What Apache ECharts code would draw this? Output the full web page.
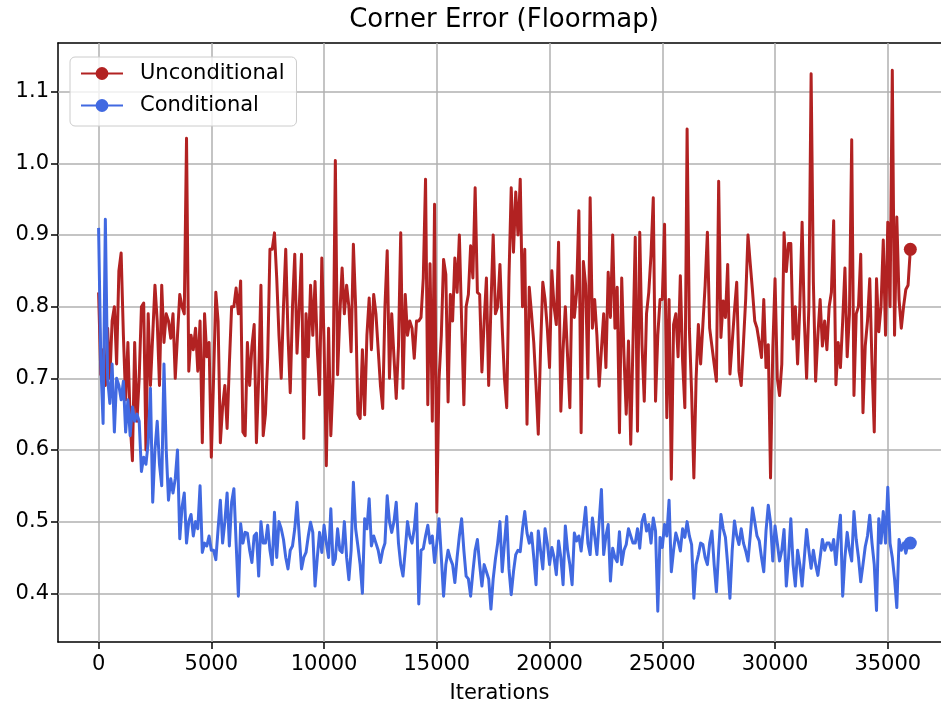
<!DOCTYPE html>
<html>
<head>
<meta charset="utf-8">
<script src="https://cdn.jsdelivr.net/npm/echarts@6/dist/echarts.min.js"></script>
<style>
  html, body { margin: 0; padding: 0; background: #ffffff; overflow: hidden; }
  #chart { width: 941px; height: 709px; }
</style>
</head>
<body>
<div id="chart"></div>
<script>
// Evaluation interval (iterations between logged points)
const ITER_STEP = 100;

// Corner error of the unconditional model, one value per logged step
const unconditional = [
  0.82,0.705,0.74,0.69,0.77,0.70,0.78,0.80,0.72,0.85,
  0.875,0.76,0.67,0.75,0.64,0.585,0.75,0.64,0.70,0.80,
  0.805,0.60,0.79,0.69,0.76,0.83,0.78,0.69,0.83,0.75,
  0.79,0.78,0.756,0.79,0.70,0.76,0.817,0.80,0.79,1.035,
  0.71,0.76,0.74,0.77,0.71,0.78,0.61,0.79,0.73,0.75,
  0.59,0.70,0.82,0.78,0.61,0.66,0.69,0.63,0.72,0.80,
  0.80,0.826,0.79,0.836,0.625,0.62,0.75,0.69,0.745,0.775,
  0.61,0.70,0.83,0.62,0.65,0.73,0.88,0.88,0.903,0.84,
  0.76,0.70,0.80,0.88,0.76,0.68,0.80,0.873,0.735,0.80,
  0.873,0.616,0.79,0.73,0.83,0.76,0.835,0.74,0.677,0.868,
  0.75,0.578,0.77,0.62,0.70,1.004,0.705,0.79,0.854,0.79,
  0.83,0.80,0.737,0.887,0.80,0.65,0.644,0.74,0.649,0.76,
  0.812,0.74,0.817,0.79,0.74,0.69,0.658,0.80,0.878,0.70,
  0.79,0.73,0.672,0.745,0.903,0.686,0.817,0.76,0.78,0.77,
  0.728,0.78,0.78,0.785,0.84,0.978,0.663,0.86,0.64,0.943,
  0.513,0.70,0.76,0.866,0.845,0.667,0.817,0.78,0.868,0.82,
  0.90,0.78,0.663,0.80,0.817,0.885,0.84,0.966,0.82,0.817,
  0.709,0.78,0.84,0.69,0.80,0.90,0.79,0.80,0.859,0.771,
  0.70,0.659,0.84,0.966,0.876,0.96,0.90,0.978,0.80,0.88,
  0.636,0.827,0.79,0.75,0.69,0.622,0.74,0.834,0.81,0.77,
  0.715,0.85,0.80,0.775,0.89,0.654,0.74,0.80,0.73,0.659,
  0.843,0.785,0.82,0.934,0.624,0.863,0.83,0.70,0.952,0.77,
  0.81,0.76,0.689,0.74,0.79,0.715,0.848,0.785,0.90,0.77,
  0.827,0.624,0.84,0.733,0.65,0.752,0.608,0.75,0.897,0.626,
  0.904,0.747,0.668,0.79,0.82,0.873,0.952,0.668,0.76,0.81,
  0.81,0.915,0.645,0.81,0.559,0.775,0.79,0.73,0.843,0.724,
  0.659,1.048,0.77,0.68,0.561,0.70,0.775,0.72,0.775,0.83,
  0.904,0.77,0.745,0.72,0.696,0.975,0.757,0.808,0.785,0.859,
  0.706,0.75,0.794,0.834,0.71,0.69,0.75,0.812,0.90,0.86,
  0.822,0.78,0.77,0.75,0.729,0.81,0.715,0.747,0.561,0.74,
  0.839,0.70,0.676,0.72,0.903,0.849,0.888,0.888,0.755,0.80,
  0.72,0.80,0.918,0.78,0.70,0.80,1.125,0.834,0.696,0.76,
  0.81,0.745,0.78,0.74,0.80,0.82,0.92,0.691,0.75,0.715,
  0.78,0.854,0.73,0.79,1.033,0.676,0.79,0.80,0.873,0.652,
  0.745,0.78,0.839,0.72,0.625,0.839,0.765,0.80,0.893,0.76,
  0.918,0.80,1.13,0.76,0.925,0.81,0.77,0.80,0.824,0.83,
  0.88
];

// Corner error of the conditional model, same logging steps
const conditional = [
  0.91,0.72,0.637,0.922,0.70,0.665,0.72,0.625,0.70,0.69,
  0.67,0.696,0.625,0.67,0.62,0.66,0.64,0.65,0.64,0.57,
  0.59,0.58,0.61,0.686,0.527,0.60,0.64,0.58,0.55,0.72,
  0.60,0.53,0.56,0.54,0.56,0.60,0.476,0.52,0.54,0.47,
  0.50,0.51,0.48,0.50,0.49,0.55,0.457,0.47,0.466,0.48,
  0.46,0.46,0.447,0.49,0.53,0.47,0.50,0.54,0.466,0.527,
  0.546,0.47,0.396,0.497,0.47,0.485,0.484,0.46,0.443,0.48,
  0.484,0.424,0.50,0.47,0.47,0.495,0.46,0.44,0.513,0.45,
  0.50,0.49,0.475,0.45,0.434,0.46,0.466,0.49,0.527,0.48,
  0.434,0.45,0.457,0.48,0.499,0.485,0.41,0.45,0.485,0.457,
  0.495,0.47,0.45,0.518,0.44,0.448,0.49,0.46,0.457,0.50,
  0.45,0.419,0.46,0.555,0.49,0.466,0.44,0.40,0.504,0.49,
  0.532,0.466,0.48,0.47,0.46,0.443,0.46,0.47,0.536,0.50,
  0.485,0.50,0.527,0.47,0.44,0.424,0.46,0.50,0.48,0.47,
  0.49,0.525,0.385,0.46,0.462,0.48,0.495,0.47,0.48,0.443,
  0.47,0.504,0.45,0.396,0.44,0.46,0.448,0.44,0.415,0.45,
  0.48,0.504,0.46,0.424,0.42,0.396,0.43,0.46,0.475,0.44,
  0.41,0.44,0.43,0.42,0.378,0.42,0.448,0.47,0.50,0.43,
  0.47,0.507,0.434,0.398,0.43,0.454,0.46,0.458,0.49,0.514,
  0.484,0.47,0.484,0.45,0.412,0.487,0.46,0.434,0.49,0.47,
  0.44,0.464,0.45,0.426,0.473,0.45,0.412,0.494,0.46,0.44,
  0.412,0.484,0.473,0.48,0.459,0.49,0.52,0.47,0.454,0.505,
  0.48,0.454,0.50,0.545,0.454,0.48,0.496,0.417,0.463,0.45,
  0.444,0.486,0.44,0.46,0.468,0.49,0.48,0.47,0.47,0.49,
  0.463,0.50,0.51,0.487,0.496,0.47,0.505,0.487,0.375,0.478,
  0.464,0.496,0.48,0.53,0.43,0.46,0.484,0.473,0.459,0.49,
  0.478,0.50,0.48,0.468,0.393,0.44,0.454,0.47,0.468,0.45,
  0.44,0.47,0.487,0.44,0.402,0.46,0.51,0.49,0.478,0.44,
  0.393,0.46,0.501,0.48,0.468,0.49,0.47,0.459,0.445,0.48,
  0.519,0.50,0.48,0.473,0.45,0.43,0.487,0.523,0.499,0.445,
  0.494,0.47,0.445,0.46,0.489,0.41,0.45,0.504,0.44,0.41,
  0.46,0.44,0.41,0.45,0.489,0.46,0.435,0.46,0.44,0.425,
  0.45,0.475,0.46,0.47,0.47,0.46,0.475,0.44,0.48,0.509,
  0.396,0.45,0.485,0.46,0.445,0.514,0.475,0.45,0.416,0.44,
  0.465,0.48,0.509,0.47,0.44,0.376,0.504,0.47,0.514,0.47,
  0.548,0.47,0.45,0.42,0.38,0.475,0.46,0.47,0.456,0.47,
  0.47
];

// Axis ticks and visible ranges (the plot runs off the right edge of the canvas)
const xTicks = [0, 5000, 10000, 15000, 20000, 25000, 30000, 35000];
const yTicks = [0.4, 0.5, 0.6, 0.7, 0.8, 0.9, 1.0, 1.1];
const xRange = [-1800, 37360];
const yRange = [0.332, 1.168];

const FONT = '"DejaVu Sans", "Liberation Sans", sans-serif';
const RED = '#b22222';
const BLUE = '#4169e1';
const GRID_GREY = '#b0b0b0';
const SPINE = { color: '#000000', width: 1.5 };

// Line points; only the final logged step carries a marker
function toPoints(values) {
  return values.map((v, i) => ({
    value: [i * ITER_STEP, v],
    symbol: i === values.length - 1 ? 'circle' : 'none'
  }));
}

function lineSeries(name, values, color) {
  return {
    name: name,
    type: 'line',
    z: 3,
    data: toPoints(values),
    symbol: 'circle',
    symbolSize: 13,
    showSymbol: true,
    lineStyle: { color: color, width: 3, join: 'round' },
    itemStyle: { color: color },
    emphasis: { disabled: true }
  };
}

const chart = echarts.init(document.getElementById('chart'), null, { renderer: 'canvas' });

chart.setOption({
  animation: false,
  backgroundColor: '#ffffff',
  graphic: [{
    type: 'text',
    x: 504,
    y: 20,
    style: {
      text: 'Corner Error (Floormap)',
      fontSize: 26,
      fontFamily: FONT,
      fill: '#000000',
      align: 'center',
      verticalAlign: 'middle'
    }
  }],
  grid: {
    left: 58,
    top: 43,
    right: 0,
    bottom: 67,
    show: false
  },
  legend: {
    data: ['Unconditional', 'Conditional'],
    orient: 'vertical',
    left: 70,
    top: 57,
    padding: [6, 12, 10, 10],
    itemGap: 11,
    itemWidth: 42,
    itemHeight: 16,
    backgroundColor: 'rgba(255,255,255,0.8)',
    borderColor: '#cccccc',
    borderWidth: 1,
    borderRadius: 5,
    selectedMode: false,
    textStyle: { fontSize: 21, fontFamily: FONT, color: '#000000', padding: [0, 0, 0, 12] }
  },
  xAxis: [
    {
      type: 'value',
      min: xRange[0],
      max: xRange[1],
      axisLine: { onZero: false, lineStyle: SPINE },
      axisTick: { customValues: xTicks, length: 7, lineStyle: SPINE },
      axisLabel: {
        customValues: xTicks,
        formatter: v => String(v),
        color: '#000000',
        fontSize: 21,
        fontFamily: FONT,
        margin: 12
      },
      splitLine: { show: false },
      name: 'Iterations',
      nameLocation: 'middle',
      nameGap: 41,
      nameTextStyle: { fontSize: 21, fontFamily: FONT, color: '#000000' }
    },
    {
      // top frame line of the plot
      type: 'value',
      position: 'top',
      min: xRange[0],
      max: xRange[1],
      axisLine: { show: true, onZero: false, lineStyle: SPINE },
      axisTick: { show: false },
      axisLabel: { show: false },
      splitLine: { show: false }
    }
  ],
  yAxis: {
    type: 'value',
    min: yRange[0],
    max: yRange[1],
    axisLine: { show: true, onZero: false, lineStyle: SPINE },
    axisTick: { show: true, customValues: yTicks, length: 7, lineStyle: SPINE },
    axisLabel: {
      customValues: yTicks,
      formatter: v => v.toFixed(1),
      color: '#000000',
      fontSize: 21,
      fontFamily: FONT,
      margin: 9
    },
    splitLine: { show: false }
  },
  series: [
    {
      // grid lines at the tick positions, kept beneath the data lines
      type: 'line',
      data: [],
      z: 1,
      silent: true,
      markLine: {
        z: 1,
        silent: true,
        symbol: ['none', 'none'],
        label: { show: false },
        emphasis: { disabled: true },
        lineStyle: { color: GRID_GREY, width: 1.5, type: 'solid' },
        data: xTicks.map(x => ({ xAxis: x })).concat(yTicks.map(y => ({ yAxis: y })))
      }
    },
    lineSeries('Unconditional', unconditional, RED),
    lineSeries('Conditional', conditional, BLUE)
  ]
});
</script>
</body>
</html>
